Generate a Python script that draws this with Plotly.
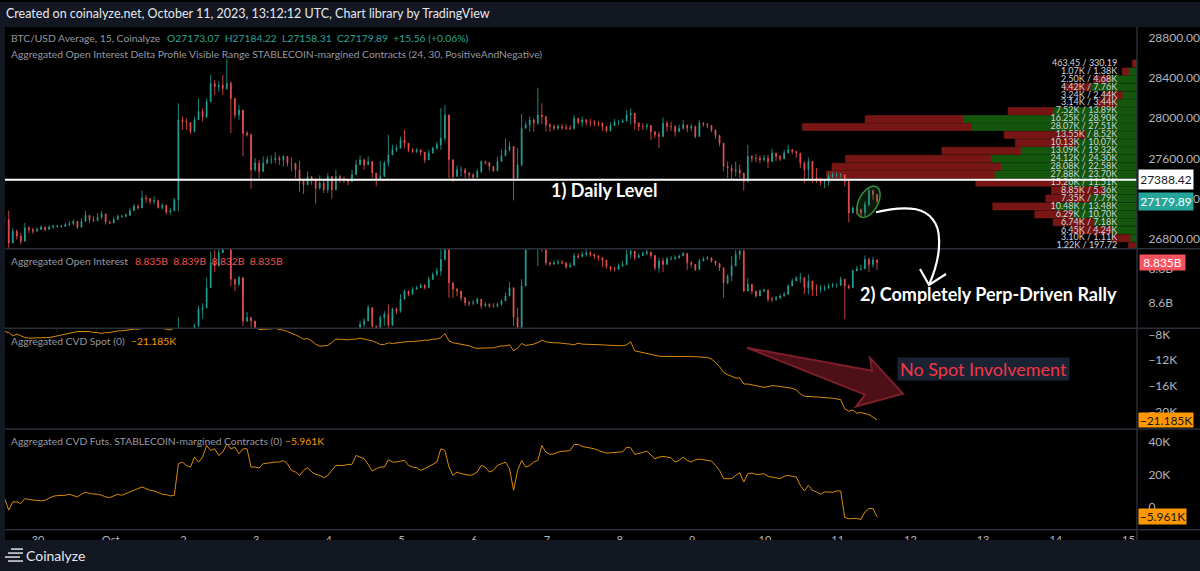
import numpy as np
import pandas as pd
import plotly.graph_objects as go

W, H = 1200, 571
FONT = "Lato"

# candles, one line per day (80 minute bars)
price_close = [
    26995,26764,26879,26830,26781,26912,26896,26879,26896,26919,26896,26919,26929,26929,26929,26945,26952,26978,
    26919,26978,27037,26995,26985,27018,27051,26972,26962,26995,27027,27027,27037,27083,27126,27110,27208,27202,
    27176,27182,27116,27136,27070,27083,27192,27982,27965,27958,27866,27982,28064,28014,28163,28343,28311,28327,
    28294,28344,28196,28031,28080,27850,27834,27488,27554,27472,27554,27587,27587,27603,27587,27620,27554,27554,
    27488,27373,27340,27422,27390,27307,27357,27291,27422,27291,27422,27390,27390,27373,27439,27537,27587,27537,
    27570,27455,27390,27422,27554,27636,27686,27702,27784,27751,27686,27669,27686,27663,27587,27653,27702,27735,
    27801,28031,27587,27422,27488,27488,27455,27439,27412,27472,27570,27561,27521,27478,27570,27630,27686,27718,
    27406,27537,27899,27932,27982,27949,28031,28015,27932,27916,27899,27916,27906,27899,27899,27998,27959,27982,
    27959,27959,27949,27949,27916,27873,27926,27959,27959,27972,28031,28047,27949,27916,27916,27926,27866,27834,
    27817,27949,27916,27916,27866,27899,27932,27900,27916,27817,27949,27939,27926,27883,27827,27751,27521,27505,
    27472,27488,27455,27373,27620,27603,27603,27587,27603,27570,27653,27620,27597,27653,27686,27669,27653,27554,
    27488,27570,27406,27390,27367,27373,27422,27439,27439,27439,27373,27061,27110,27093,27061,27143,27281,27242,27179.89,
]
price_high = [
    27027,27083,26912,26896,26863,26962,26929,26912,26919,26939,26919,26939,26945,26945,26945,26962,26978,26995,
    26945,27011,27083,27037,27027,27060,27083,27044,26985,27021,27044,27044,27060,27110,27149,27143,27281,27241,
    27208,27225,27192,27159,27126,27110,27208,28146,28014,27998,27949,28014,28195,28097,28195,28426,28376,28360,
    28426,28584,28360,28196,28130,27965,27873,27850,27603,27587,27620,27620,27630,27663,27630,27630,27620,27610,
    27554,27577,27390,27472,27422,27406,27432,27390,27455,27422,27488,27439,27422,27399,27488,27587,27630,27597,
    27620,27521,27439,27577,27577,27834,27735,27735,27817,27883,27735,27702,27702,27686,27653,27686,27718,27761,
    28097,28130,27686,27521,27531,27521,27505,27465,27455,27498,27580,27577,27544,27511,27620,27686,27794,27768,
    27702,27702,28041,27965,28015,27998,28301,28146,28015,27949,27939,27939,27939,27939,27932,28031,27991,28015,
    27991,27991,27982,27972,27959,27906,27959,27991,27982,27991,28080,28097,28031,27959,27949,27949,27916,27866,
    27866,28005,27972,27965,27932,27932,27982,27932,27939,27926,27982,27959,27949,27932,27850,27834,27702,27570,
    27538,27570,27538,27422,27735,27636,27643,27630,27636,27636,27695,27653,27636,27686,27735,27695,27676,27653,
    27570,27610,27488,27505,27406,27390,27455,27465,27462,27455,27439,27390,27126,27126,27103,27176,27314,27291,27242,
]
price_low = [
    26962,26715,26797,26797,26748,26830,26863,26853,26879,26896,26879,26896,26906,26912,26912,26919,26929,26939,
    26902,26919,26972,26962,26972,26978,26995,26945,26952,26972,26995,27011,27018,27060,27083,27093,27110,27159,
    27143,27143,27103,27093,27044,27044,27077,27077,27883,27883,27840,27858,27982,27965,27998,28163,28228,28261,
    28228,28278,27850,27999,27982,27620,27817,27301,27472,27406,27498,27544,27544,27554,27537,27521,27521,27472,
    27406,27274,27248,27357,27340,27153,27291,27258,27258,27202,27301,27357,27357,27334,27380,27439,27537,27488,
    27537,27406,27324,27390,27505,27521,27653,27663,27735,27702,27663,27653,27653,27630,27554,27597,27663,27686,
    27686,27768,27406,27366,27422,27422,27406,27399,27399,27422,27455,27537,27478,27465,27498,27570,27620,27669,
    27185,27521,27521,27899,27866,27866,27932,27939,27866,27866,27876,27883,27883,27883,27880,27883,27939,27916,
    27926,27916,27916,27916,27873,27860,27906,27932,27932,27949,27965,27939,27883,27873,27883,27883,27784,27801,
    27702,27817,27866,27873,27817,27866,27883,27860,27867,27801,27916,27916,27900,27860,27794,27719,27472,27406,
    27390,27422,27406,27281,27505,27564,27564,27554,27570,27505,27620,27577,27577,27630,27653,27643,27603,27505,
    27357,27390,27357,27357,27334,27307,27334,27406,27413,27406,27324,26968,27077,27044,27018,27028,27126,27192,27158,
]

oi_close = [
    8.25,8.24,8.24,8.25,8.25,8.26,8.26,8.26,8.27,8.27,8.27,8.27,8.28,8.28,8.28,8.28,8.29,8.29,
    8.28,8.29,8.29,8.30,8.30,8.30,8.31,8.30,8.30,8.31,8.31,8.31,8.32,8.32,8.33,8.33,8.32,8.31,
    8.30,8.31,8.31,8.32,8.32,8.33,8.34,8.44,8.40,8.41,8.42,8.47,8.565,8.574,8.69,8.835,8.816,8.893,
    8.95,8.97,8.739,8.710,8.748,8.497,8.517,8.497,8.44,8.40,8.38,8.38,8.37,8.38,8.39,8.38,8.37,8.36,
    8.35,8.34,8.33,8.34,8.35,8.34,8.36,8.37,8.36,8.38,8.37,8.39,8.40,8.41,8.42,8.44,8.478,8.497,
    8.574,8.468,8.459,8.517,8.536,8.472,8.565,8.555,8.623,8.671,8.652,8.681,8.690,8.704,8.690,8.739,8.767,8.787,
    8.854,8.95,8.719,8.681,8.671,8.632,8.603,8.600,8.603,8.623,8.584,8.594,8.584,8.584,8.594,8.613,8.642,8.690,
    8.517,8.459,8.70,8.912,8.97,8.96,8.97,8.912,8.835,8.826,8.835,8.839,8.835,8.812,8.820,8.874,8.870,8.883,
    8.893,8.883,8.874,8.864,8.850,8.812,8.800,8.796,8.816,8.825,8.883,8.902,8.864,8.877,8.889,8.897,8.877,8.806,
    8.845,8.825,8.858,8.858,8.864,8.874,8.889,8.835,8.825,8.796,8.845,8.858,8.864,8.845,8.831,8.806,8.719,8.758,
    8.816,8.883,8.902,8.671,8.710,8.671,8.642,8.671,8.677,8.623,8.623,8.632,8.642,8.652,8.700,8.729,8.748,8.748,
    8.690,8.729,8.681,8.681,8.685,8.690,8.700,8.704,8.704,8.739,8.700,8.690,8.787,8.800,8.800,8.854,8.825,8.851,8.835,
]
oi_high = [
    8.27,8.26,8.26,8.27,8.27,8.28,8.28,8.28,8.29,8.29,8.29,8.29,8.30,8.30,8.30,8.30,8.31,8.31,
    8.30,8.31,8.31,8.32,8.32,8.32,8.33,8.32,8.32,8.33,8.33,8.33,8.34,8.34,8.35,8.35,8.34,8.33,
    8.31,8.32,8.32,8.33,8.33,8.34,8.36,8.517,8.44,8.42,8.44,8.48,8.585,8.60,8.75,8.90,8.91,8.94,
    8.99,9.00,8.95,8.74,8.76,8.671,8.55,8.52,8.45,8.44,8.41,8.40,8.39,8.40,8.41,8.40,8.39,8.38,
    8.37,8.36,8.35,8.36,8.37,8.36,8.38,8.39,8.38,8.40,8.39,8.41,8.42,8.43,8.44,8.45,8.497,8.515,
    8.588,8.536,8.468,8.530,8.555,8.594,8.575,8.575,8.652,8.681,8.671,8.695,8.700,8.715,8.710,8.755,8.780,8.806,
    8.95,8.99,8.95,8.710,8.690,8.652,8.623,8.613,8.619,8.632,8.613,8.607,8.600,8.600,8.603,8.623,8.661,8.723,
    8.623,8.575,8.74,8.93,9.00,8.99,9.00,8.98,8.91,8.84,8.85,8.855,8.85,8.835,8.835,8.89,8.89,8.90,
    8.915,8.905,8.89,8.88,8.865,8.84,8.815,8.81,8.83,8.845,8.92,8.945,8.90,8.89,8.90,8.91,8.90,8.845,
    8.864,8.864,8.870,8.874,8.878,8.883,8.897,8.854,8.845,8.816,8.858,8.870,8.874,8.858,8.845,8.831,8.806,8.767,
    8.874,8.908,8.912,8.912,8.748,8.696,8.661,8.681,8.684,8.671,8.638,8.642,8.652,8.665,8.710,8.742,8.758,8.777,
    8.739,8.767,8.719,8.710,8.704,8.704,8.715,8.719,8.715,8.754,8.729,8.710,8.797,8.816,8.825,8.878,8.864,8.870,8.854,
]
oi_low = [
    8.23,8.22,8.22,8.23,8.23,8.24,8.24,8.24,8.25,8.25,8.25,8.25,8.26,8.26,8.26,8.26,8.27,8.27,
    8.26,8.27,8.27,8.28,8.28,8.28,8.29,8.28,8.28,8.29,8.29,8.29,8.30,8.30,8.31,8.31,8.30,8.29,
    8.29,8.30,8.30,8.31,8.31,8.32,8.33,8.33,8.39,8.40,8.41,8.41,8.46,8.51,8.57,8.69,8.78,8.85,
    8.92,8.94,8.70,8.67,8.70,8.468,8.49,8.43,8.41,8.39,8.37,8.37,8.36,8.37,8.38,8.37,8.35,8.35,
    8.33,8.32,8.31,8.32,8.33,8.32,8.34,8.35,8.34,8.36,8.35,8.37,8.38,8.39,8.40,8.42,8.44,8.46,
    8.50,8.44,8.44,8.45,8.468,8.44,8.545,8.536,8.545,8.623,8.640,8.650,8.680,8.690,8.680,8.69,8.735,8.76,
    8.76,8.85,8.632,8.632,8.642,8.613,8.584,8.584,8.588,8.594,8.568,8.580,8.574,8.574,8.574,8.584,8.613,8.661,
    8.468,8.43,8.497,8.70,8.91,8.93,8.816,8.90,8.82,8.815,8.825,8.825,8.825,8.80,8.805,8.82,8.855,8.87,
    8.87,8.87,8.855,8.845,8.81,8.80,8.785,8.785,8.80,8.81,8.82,8.86,8.85,8.865,8.875,8.88,8.86,8.79,
    8.777,8.781,8.845,8.851,8.851,8.858,8.874,8.793,8.806,8.787,8.825,8.845,8.851,8.835,8.816,8.787,8.632,8.710,
    8.729,8.816,8.854,8.665,8.681,8.652,8.632,8.652,8.665,8.607,8.607,8.613,8.623,8.638,8.671,8.710,8.729,8.719,
    8.652,8.652,8.642,8.642,8.661,8.671,8.681,8.690,8.690,8.719,8.507,8.681,8.690,8.787,8.787,8.797,8.781,8.806,8.793,
]

cvd_spot = [
    -7.56,-7.72,-8.23,-7.97,-8.23,-8.49,-8.59,-8.59,-8.54,-8.49,-8.49,-8.49,-8.38,-8.23,-8.08,-7.97,-7.87,-7.67,
    -7.56,-7.56,-7.56,-7.56,-7.72,-7.72,-7.87,-7.72,-7.72,-7.56,-7.46,-7.46,-7.36,-7.36,-7.20,-7.20,-7.10,-7.05,
    -6.95,-6.85,-7.00,-7.15,-7.20,-7.31,-7.05,-5.92,-5.41,-5.67,-5.51,-5.15,-4.90,-4.64,-4.38,-4.13,-4.64,-4.90,
    -4.90,-4.64,-5.00,-5.31,-5.72,-6.18,-6.44,-6.69,-6.85,-7.26,-7.26,-7.20,-7.15,-7.10,-7.20,-7.36,-7.56,-7.77,
    -8.08,-8.38,-8.74,-8.64,-9.00,-9.51,-9.82,-9.77,-9.72,-9.26,-8.74,-8.74,-8.85,-8.85,-8.74,-8.74,-8.59,-8.69,
    -8.79,-9.00,-9.26,-9.56,-9.56,-9.31,-9.41,-9.31,-9.26,-9.15,-9.10,-9.10,-9.10,-9.00,-8.90,-8.90,-8.74,-8.74,
    -8.49,-7.87,-9.00,-9.31,-9.41,-9.51,-9.62,-9.77,-10.02,-10.18,-10.13,-10.13,-10.13,-10.08,-9.92,-9.77,-9.77,-9.62,
    -10.54,-10.13,-9.41,-9.72,-9.62,-9.51,-9.26,-8.90,-9.15,-9.26,-9.31,-9.31,-9.36,-9.36,-9.51,-9.62,-9.36,-9.51,
    -9.51,-9.56,-9.56,-9.62,-9.62,-9.67,-9.72,-9.77,-9.82,-9.77,-9.62,-9.15,-10.54,-10.69,-10.85,-11.00,-11.15,-11.31,
    -11.36,-11.41,-11.41,-11.41,-11.36,-11.31,-11.31,-11.36,-11.41,-11.46,-11.46,-11.51,-11.56,-11.82,-12.33,-13.00,-13.87,-14.23,
    -14.54,-14.74,-14.74,-15.67,-15.67,-15.77,-15.87,-16.02,-16.18,-16.08,-15.92,-15.97,-16.08,-16.18,-16.23,-16.33,-16.59,-17.20,
    -17.56,-17.56,-17.61,-17.67,-17.72,-17.82,-17.82,-17.87,-17.97,-18.08,-19.51,-19.87,-19.67,-20.18,-20.08,-20.28,-20.38,-20.79,-21.185,
]
cvd_futs = [
    5.31,-1.84,3.27,3.27,2.24,5.31,4.69,4.29,3.88,3.88,4.29,5.31,6.73,7.14,7.14,7.35,7.96,7.35,
    6.33,7.96,9.18,8.37,8.37,7.96,7.35,6.33,5.92,6.73,7.96,7.35,8.37,8.98,10.00,11.43,12.45,11.43,
    10.41,10.00,8.78,7.96,7.76,6.94,7.35,26.73,27.76,25.71,24.69,30.82,27.76,30.82,37.96,34.90,35.92,31.84,
    33.88,38.98,35.92,36.94,32.86,35.92,35.92,24.69,24.69,24.08,26.73,27.14,27.76,27.76,27.76,28.78,26.73,22.65,
    21.63,19.59,22.65,24.29,21.63,20.20,19.59,18.16,19.59,22.65,25.71,25.71,25.71,26.33,26.33,31.84,30.82,29.80,
    26.33,22.24,23.67,24.69,24.69,29.18,27.76,27.76,28.37,28.78,25.71,24.69,24.29,22.65,23.67,25.10,26.73,27.76,
    35.92,34.90,24.69,19.59,21.63,20.61,20.20,19.59,20.00,21.63,25.71,24.69,21.63,22.65,25.71,26.73,27.76,23.67,
    10.41,22.65,28.78,24.69,25.71,27.76,28.78,37.96,33.88,32.45,32.86,33.88,34.49,34.49,34.90,38.57,38.57,37.35,
    36.94,36.53,35.92,34.90,34.29,33.27,33.47,33.67,33.67,34.08,36.94,36.53,32.45,32.86,33.67,34.49,31.84,29.80,
    30.82,31.22,30.82,30.41,27.76,28.78,30.82,28.78,27.76,29.18,29.59,29.18,28.78,28.37,25.71,22.65,17.55,17.35,
    17.55,19.59,21.22,15.51,20.61,21.02,20.20,20.20,20.61,18.98,18.57,18.16,17.55,18.98,19.59,18.98,18.57,13.47,
    10.00,13.47,10.41,9.39,7.96,9.39,9.39,9.18,10.00,10.00,-6.33,-7.14,-6.94,-6.94,-7.55,-2.86,-0.82,-0.82,-5.961,
]

# open interest delta profile, top row first (thousands)
profile_price = [28541,28462,28384,28305,28226,28148,28069,27990,27912,27833,27754,27676,27597,27518,27440,27361,27282,27204,27125,27046,26968,26889,26810,26731]
profile_red = [0.46345,1.07,2.50,4.42,3.24,3.14,7.52,16.25,28.07,13.55,10.13,13.09,24.12,28.08,27.88,15.26,8.85,7.35,10.48,6.29,6.74,6.45,3.10,1.22]
profile_green = [0.33019,1.38,4.68,7.76,2.44,3.44,13.89,28.90,27.51,8.52,10.07,19.32,24.30,22.58,23.70,11.51,5.36,7.79,13.48,10.70,7.18,4.24,1.11,0.19772]
profile_labels = ["463.45 / 330.19","1.07K / 1.38K","2.50K / 4.68K","4.42K / 7.76K","3.24K / 2.44K","3.14K / 3.44K","7.52K / 13.89K","16.25K / 28.90K","28.07K / 27.51K","13.55K / 8.52K","10.13K / 10.07K","13.09K / 19.32K","24.12K / 24.30K","28.08K / 22.58K","27.88K / 23.70K","15.26K / 11.51K","8.85K / 5.36K","7.35K / 7.79K","10.48K / 13.48K","6.29K / 10.70K","6.74K / 7.18K","6.45K / 4.24K","3.10K / 1.11K","1.22K / 197.72"]

daily_level = 27388.42
day_ticks = pd.date_range("2023-09-30", "2023-10-15", freq="D")
day_labels = ["30","Oct","2","3","4","5","6","7","8","9","10","11","12","13","14","15"]

times = pd.date_range(end="2023-10-11 13:00", periods=len(price_close), freq="80min")
price_open = [price_close[0]] + price_close[:-1]
oi_open = [oi_close[0]] + oi_close[:-1]


def xp(x):
    return x / W


def yp(y):
    return 1 - y / H


def path(points, close=False):
    cmds = []
    for i, (px, py) in enumerate(points):
        cmds.append(("M" if i == 0 else "L") + f"{xp(px):.5f},{yp(py):.5f}")
    return " ".join(cmds) + (" Z" if close else "")


def curve(start, *segs):
    # cubic segments, three points each
    s = f"M{xp(start[0]):.5f},{yp(start[1]):.5f}"
    for seg in segs:
        s += " C" + " ".join(f"{xp(a):.5f},{yp(b):.5f}" for a, b in seg)
    return s


fig = go.Figure()

# profile bars sit behind everything on their own x axis (thousands, from the right edge)
fig.add_trace(go.Scatter(x=[], y=[], xaxis="x", yaxis="y", showlegend=False))
fig.add_trace(go.Bar(y=profile_price, x=profile_green, base=0, orientation="h", width=70,
                     marker=dict(color="#14570c", line=dict(color="#1d6b14", width=0.5)),
                     xaxis="x2", yaxis="y", showlegend=False))
fig.add_trace(go.Bar(y=profile_price, x=profile_red, base=profile_green, orientation="h", width=70,
                     marker=dict(color="#771614", line=dict(color="#8a1f1c", width=0.5)),
                     xaxis="x2", yaxis="y", showlegend=False))
fig.add_trace(go.Scatter(y=profile_price, x=[3.3] * len(profile_price), mode="text", text=profile_labels,
                         textposition="middle left", textfont=dict(family=FONT, size=9, color="#d1d4dc"),
                         cliponaxis=True, xaxis="x2", yaxis="y", showlegend=False))

UP, DOWN = "#26a69a", "#ef5350"
candle = dict(increasing=dict(line=dict(color=UP, width=0.8), fillcolor=UP),
              decreasing=dict(line=dict(color=DOWN, width=0.8), fillcolor=DOWN),
              whiskerwidth=0, showlegend=False)
fig.add_trace(go.Candlestick(x=times, open=price_open, high=price_high, low=price_low, close=price_close,
                             xaxis="x3", yaxis="y", **candle))
fig.add_trace(go.Scatter(x=[day_ticks[0] - pd.Timedelta(days=1), day_ticks[-1] + pd.Timedelta(days=1)],
                         y=[daily_level, daily_level], mode="lines", line=dict(color="#ffffff", width=2),
                         xaxis="x3", yaxis="y", showlegend=False))
fig.add_trace(go.Candlestick(x=times, open=oi_open, high=oi_high, low=oi_low, close=oi_close,
                             xaxis="x", yaxis="y2", **candle))
fig.add_trace(go.Scatter(x=times, y=cvd_spot, mode="lines", line=dict(color="#d98a0b", width=1),
                         xaxis="x", yaxis="y3", showlegend=False))
fig.add_trace(go.Scatter(x=times, y=cvd_futs, mode="lines", line=dict(color="#d98a0b", width=1),
                         xaxis="x", yaxis="y4", showlegend=False))

x_dom = [xp(5), xp(1137)]
x_range = ["2023-09-29 13:06", "2023-10-15 02:49"]
tick = dict(color="#b2b5be", family=FONT, size=12)
y_common = dict(side="right", anchor="x", showgrid=False, zeroline=False, showline=False,
                ticks="outside", ticklen=8, tickcolor="rgba(0,0,0,0)", tickfont=tick)

fig.update_layout(
    width=W, height=H, margin=dict(l=0, r=0, t=0, b=0), autosize=False,
    paper_bgcolor="#000000", plot_bgcolor="#000000", hovermode=False, showlegend=False, barmode="overlay",
    boxgap=0.7,
    xaxis=dict(domain=x_dom, range=x_range, type="date", anchor="y4", tickmode="array", tickvals=day_ticks,
               ticktext=day_labels, showgrid=False, zeroline=False, showline=False, tickfont=dict(color="#b2b5be", family=FONT, size=11),
               ticks="outside", ticklen=1, tickcolor="rgba(0,0,0,0)", rangeslider=dict(visible=False)),
    xaxis2=dict(overlaying="x", range=[188, 0], anchor="y", visible=False),
    xaxis3=dict(overlaying="x", range=x_range, type="date", anchor="y", visible=False, rangeslider=dict(visible=False)),
    yaxis=dict(domain=[yp(247), yp(25)], range=[26712, 28903], tickmode="array",
               tickvals=[26800, 27200, 27600, 28000, 28400, 28800], tickformat=".2f", **y_common),
    yaxis2=dict(domain=[yp(327), yp(248)], range=[8.457, 8.914], tickmode="array",
                tickvals=[8.6, 8.8], ticktext=["8.6B", "8.8B"], **y_common),
    yaxis3=dict(domain=[yp(428), yp(328)], range=[-22.54, -7.15], tickmode="array",
                tickvals=[-20, -16, -12, -8], ticktext=["−20K", "−16K", "−12K", "−8K"], **y_common),
    yaxis4=dict(domain=[yp(529), yp(429)], range=[-13.5, 47.8], tickmode="array",
                tickvals=[0, 20, 40], ticktext=["0", "20K", "40K"], **y_common),
)

# frame: dark bands around the black chart area, pane separators
BAND = "#131722"
for x0, x1, y0, y1 in [(0, W, 0, 25), (0, W, 540, H), (0, 5, 0, H)]:
    fig.add_shape(type="rect", xref="paper", yref="paper", x0=xp(x0), x1=xp(x1), y0=yp(y1), y1=yp(y0),
                  fillcolor=BAND, line_width=0, layer="above")
for y in [247.5, 327.5, 428.5, 529.5]:
    fig.add_shape(type="line", xref="paper", yref="paper", x0=xp(5), x1=1, y0=yp(y), y1=yp(y),
                  line=dict(color="#2a2e39", width=1.5), layer="above")
fig.add_shape(type="line", xref="paper", yref="paper", x0=xp(1137), x1=xp(1137), y0=yp(540), y1=yp(25),
              line=dict(color="#2a2e39", width=1.5), layer="above")

# green ellipse round the rally
t = np.linspace(0, 2 * np.pi, 60)
ang = np.radians(62)
ex = 868.5 + 17 * np.cos(t) * np.cos(ang) - 9.5 * np.sin(t) * np.sin(ang)
ey = 200.5 - 17 * np.cos(t) * np.sin(ang) - 9.5 * np.sin(t) * np.cos(ang)
fig.add_shape(type="path", xref="paper", yref="paper", path=path(list(zip(ex, ey)), close=True),
              fillcolor="rgba(46,125,50,0.22)", line=dict(color="#388e3c", width=1.5), layer="above")

# hand drawn white arrow
fig.add_shape(type="path", xref="paper", yref="paper",
              path=curve((876, 211), [(888, 208), (905, 206), (916, 208)], [(930, 211), (939, 222), (939, 238)],
                         [(940, 254), (935, 270), (929, 284)]),
              line=dict(color="#ffffff", width=2.2), layer="above")
fig.add_shape(type="path", xref="paper", yref="paper", path=path([(920, 268), (929, 284), (946, 273)]),
              line=dict(color="#ffffff", width=2.2), layer="above")

# red arrow
fig.add_shape(type="path", xref="paper", yref="paper",
              path=path([(747, 347), (872, 370), (870, 357), (903, 393), (856, 406), (865, 394)], close=True),
              fillcolor="rgba(122,26,36,0.62)", line=dict(color="#7d1f2a", width=2), layer="above")

# hamburger logo
for y, a, b in [(549, 11, 23), (553, 8, 23), (557, 5, 20), (561, 8, 23)]:
    fig.add_shape(type="line", xref="paper", yref="paper", x0=xp(a), x1=xp(b), y0=yp(y), y1=yp(y),
                  line=dict(color="#ffffff", width=1.3), layer="above")


def label(x, y, text, size=10.3, color="#9598a1", anchor="left", **kw):
    fig.add_annotation(xref="paper", yref="paper", x=xp(x), y=yp(y), text=text, showarrow=False,
                       xanchor=anchor, yanchor="middle", font=dict(family=FONT, size=size, color=color), **kw)


def price_tag(x, y, text, w, h, color, bg):
    label(x, y, text, 12, color, bgcolor=bg, width=w, height=h, align="center", valign="middle", borderpad=0)


label(4, 12, "Created on coinalyze.net, October 11, 2023, 13:12:12 UTC, Chart library by TradingView", 12.5, "#e6e8ee")
label(24, 555, "Coinalyze", 14, "#e6e8ee")

label(9, 36, "BTC/USD Average, 15, Coinalyze")
label(165, 36, "O27173.07  H27184.22  L27158.31  C27179.89  +15.56 (+0.06%)", color=UP)
label(9, 52, "Aggregated Open Interest Delta Profile Visible Range STABLECOIN-margined Contracts (24, 30, PositiveAndNegative)")
label(9, 260, "Aggregated Open Interest")
label(133, 260, "8.835B  8.839B  8.832B  8.835B", color=DOWN)
label(9, 340, "Aggregated CVD Spot (0)")
label(129, 340, "−21.185K", color="#ff9800")
label(9, 441, "Aggregated CVD Futs. STABLECOIN-margined Contracts (0)")
label(283, 441, "−5.961K", color="#ff9800")

label(549, 189, "<b>1) Daily Level</b>", 18, "#ffffff")
label(858, 293, "<b>2) Completely Perp-Driven Rally</b>", 18, "#ffffff")
label(897, 368, "No Spot Involvement", 18, "#f23645", bgcolor="#1a2333", width=171, height=22, align="center", valign="middle", borderpad=0)

price_tag(1138, 178.5, "27388.42", 54, 19, "#131722", "#ffffff")
price_tag(1138, 200, "27179.89", 54, 17, "#ffffff", "#26a69a")
price_tag(1139, 261.5, "8.835B", 45, 15, "#ffffff", "#f7525f")
price_tag(1138, 419, "−21.185K", 54, 14, "#131722", "#ff9800")
price_tag(1138, 516.5, "−5.961K", 47, 15, "#131722", "#ff9800")

fig.write_html("out.html", config=dict(displayModeBar=False),
               post_script="document.body.style.margin='0';document.documentElement.style.overflow='hidden';")
